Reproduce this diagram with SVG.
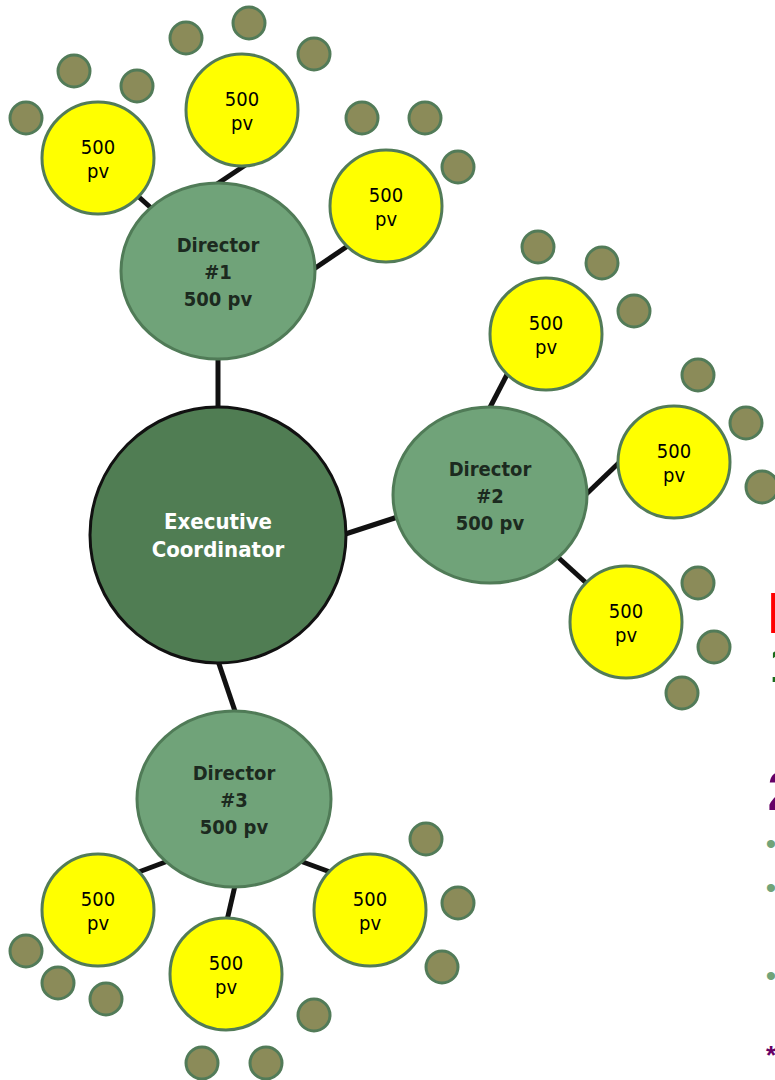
<svg xmlns="http://www.w3.org/2000/svg" width="775" height="1080" viewBox="0 0 775 1080">
<style>
.conn line{stroke:#111;stroke-width:5;stroke-linecap:butt}
.exec{fill:#507d53;stroke:#111;stroke-width:3}
.dir{fill:#70a379;stroke:#507b57;stroke-width:3}
.leaf{fill:#ffff00;stroke:#527b58;stroke-width:3}
.dot{fill:#8b8b59;stroke:#527b58;stroke-width:3}
.t{font-family:"DejaVu Sans Condensed","DejaVu Sans",sans-serif;text-anchor:middle}
.te{font-size:22px;font-weight:bold;fill:#ffffff}
.td{font-size:20px;font-weight:bold;fill:#1c2a1f}
.tl{font-size:20px;fill:#000}
.frag{font-family:"Liberation Sans",Arial,sans-serif;font-weight:bold}
</style>
<g id="connectors" class="conn">
<line x1="218" y1="350" x2="218" y2="415"/>
<line x1="330" y1="539" x2="410" y2="513"/>
<line x1="216" y1="655" x2="238" y2="720"/>
<line x1="130" y1="189" x2="160" y2="216"/>
<line x1="208" y1="190" x2="250" y2="162"/>
<line x1="305" y1="275" x2="355" y2="241"/>
<line x1="485" y1="417" x2="512" y2="365"/>
<line x1="577" y1="503" x2="626" y2="456"/>
<line x1="550" y1="550" x2="594" y2="590"/>
<line x1="128" y1="876" x2="176" y2="858"/>
<line x1="237" y1="877" x2="225" y2="929"/>
<line x1="292" y1="858" x2="341" y2="876"/>
</g>
<g id="executive">
<circle class="exec" cx="218" cy="535" r="128"/>
<text class="t te" x="218" y="529">Executive</text>
<text class="t te" x="218" y="557">Coordinator</text>
</g>
<g id="director1">
<ellipse class="dir" cx="218" cy="271" rx="97" ry="88"/>
<text class="t td" x="218" y="252">Director</text>
<text class="t td" x="218" y="279">#1</text>
<text class="t td" x="218" y="306">500 pv</text>
</g>
<g id="director2">
<ellipse class="dir" cx="490" cy="495" rx="97" ry="88"/>
<text class="t td" x="490" y="476">Director</text>
<text class="t td" x="490" y="503">#2</text>
<text class="t td" x="490" y="530">500 pv</text>
</g>
<g id="director3">
<ellipse class="dir" cx="234" cy="799" rx="97" ry="88"/>
<text class="t td" x="234" y="780">Director</text>
<text class="t td" x="234" y="807">#3</text>
<text class="t td" x="234" y="834">500 pv</text>
</g>
<g id="leaf1a">
<circle class="leaf" cx="98" cy="158" r="56"/>
<text class="t tl" x="98" y="154">500</text>
<text class="t tl" x="98" y="178">pv</text>
</g>
<g id="leaf1b">
<circle class="leaf" cx="242" cy="110" r="56"/>
<text class="t tl" x="242" y="106">500</text>
<text class="t tl" x="242" y="130">pv</text>
</g>
<g id="leaf1c">
<circle class="leaf" cx="386" cy="206" r="56"/>
<text class="t tl" x="386" y="202">500</text>
<text class="t tl" x="386" y="226">pv</text>
</g>
<g id="leaf2a">
<circle class="leaf" cx="546" cy="334" r="56"/>
<text class="t tl" x="546" y="330">500</text>
<text class="t tl" x="546" y="354">pv</text>
</g>
<g id="leaf2b">
<circle class="leaf" cx="674" cy="462" r="56"/>
<text class="t tl" x="674" y="458">500</text>
<text class="t tl" x="674" y="482">pv</text>
</g>
<g id="leaf2c">
<circle class="leaf" cx="626" cy="622" r="56"/>
<text class="t tl" x="626" y="618">500</text>
<text class="t tl" x="626" y="642">pv</text>
</g>
<g id="leaf3a">
<circle class="leaf" cx="98" cy="910" r="56"/>
<text class="t tl" x="98" y="906">500</text>
<text class="t tl" x="98" y="930">pv</text>
</g>
<g id="leaf3b">
<circle class="leaf" cx="226" cy="974" r="56"/>
<text class="t tl" x="226" y="970">500</text>
<text class="t tl" x="226" y="994">pv</text>
</g>
<g id="leaf3c">
<circle class="leaf" cx="370" cy="910" r="56"/>
<text class="t tl" x="370" y="906">500</text>
<text class="t tl" x="370" y="930">pv</text>
</g>
<g id="prospects1a"><circle class="dot" cx="26" cy="118" r="16"/><circle class="dot" cx="74" cy="71" r="16"/><circle class="dot" cx="137" cy="86" r="16"/></g>
<g id="prospects1b"><circle class="dot" cx="186" cy="38" r="16"/><circle class="dot" cx="249" cy="23" r="16"/><circle class="dot" cx="314" cy="54" r="16"/></g>
<g id="prospects1c"><circle class="dot" cx="362" cy="118" r="16"/><circle class="dot" cx="425" cy="118" r="16"/><circle class="dot" cx="458" cy="167" r="16"/></g>
<g id="prospects2a"><circle class="dot" cx="538" cy="247" r="16"/><circle class="dot" cx="602" cy="263" r="16"/><circle class="dot" cx="634" cy="311" r="16"/></g>
<g id="prospects2b"><circle class="dot" cx="698" cy="375" r="16"/><circle class="dot" cx="746" cy="423" r="16"/><circle class="dot" cx="762" cy="487" r="16"/></g>
<g id="prospects2c"><circle class="dot" cx="698" cy="583" r="16"/><circle class="dot" cx="714" cy="647" r="16"/><circle class="dot" cx="682" cy="693" r="16"/></g>
<g id="prospects3a"><circle class="dot" cx="26" cy="951" r="16"/><circle class="dot" cx="58" cy="983" r="16"/><circle class="dot" cx="106" cy="999" r="16"/></g>
<g id="prospects3b"><circle class="dot" cx="314" cy="1015" r="16"/><circle class="dot" cx="202" cy="1063" r="16"/><circle class="dot" cx="266" cy="1063" r="16"/></g>
<g id="prospects3c"><circle class="dot" cx="426" cy="839" r="16"/><circle class="dot" cx="458" cy="903" r="16"/><circle class="dot" cx="442" cy="967" r="16"/></g>
<g id="cut-off-text" class="frag">
<text x="767.3" y="633" font-size="58" fill="#ff0000">H</text>
<text x="769.5" y="682" font-size="50" fill="#1a6b1a">1</text>
<text x="767.5" y="810" font-size="55" fill="#660066">2</text>
<text x="765.8" y="853.8" font-size="30" fill="#70a479" font-weight="normal">•</text>
<text x="765.8" y="897.8" font-size="30" fill="#70a479" font-weight="normal">•</text>
<text x="765.8" y="985.8" font-size="30" fill="#70a479" font-weight="normal">•</text>
<text x="766" y="1064" font-size="26" fill="#660066">*</text>
</g>
</svg>
